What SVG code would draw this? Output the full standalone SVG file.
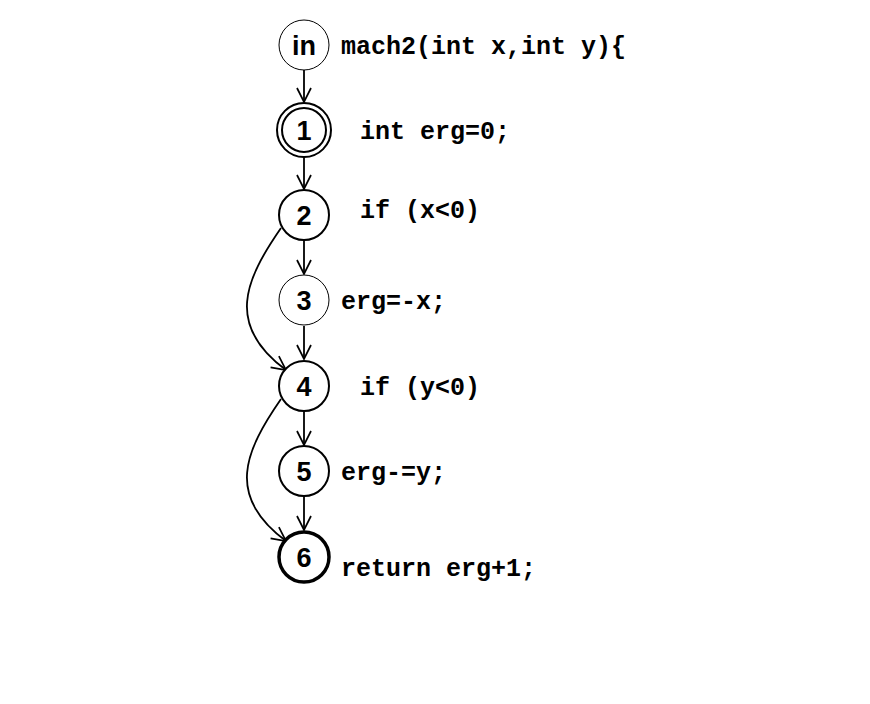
<svg xmlns="http://www.w3.org/2000/svg" width="870" height="704" viewBox="0 0 870 704">
<defs>
<style>
.n{fill:#fff;stroke:#000}
.lab{font-family:"Liberation Sans",Arial,sans-serif;font-weight:bold;font-size:27px;text-anchor:middle}
.code{font-family:"Liberation Mono","Courier New",monospace;font-weight:bold;font-size:25px}
.e{fill:none;stroke:#000;stroke-width:1.8}
</style>
<marker id="ar" viewBox="0 0 16 16" refX="15" refY="8" markerWidth="16" markerHeight="16" markerUnits="userSpaceOnUse" orient="auto">
<path d="M1,1 L15,8 L1,15" fill="none" stroke="#000" stroke-width="1.7"/>
</marker>
</defs>
<rect width="870" height="704" fill="#fff"/>
<g id="edges">
<line class="e" x1="304" y1="70" x2="304" y2="102" marker-end="url(#ar)"/>
<line class="e" x1="304" y1="157" x2="304" y2="189" marker-end="url(#ar)"/>
<line class="e" x1="304" y1="241" x2="304" y2="274" marker-end="url(#ar)"/>
<line class="e" x1="304" y1="326" x2="304" y2="359" marker-end="url(#ar)"/>
<line class="e" x1="304" y1="412" x2="304" y2="445" marker-end="url(#ar)"/>
<line class="e" x1="304" y1="497" x2="304" y2="530" marker-end="url(#ar)"/>
<path class="e" d="M281,228 C245,280 225,325 286,370" marker-end="url(#ar)"/>
<path class="e" d="M281,399 C245,451 225,496 286,541" marker-end="url(#ar)"/>
</g>
<g id="in">
<circle class="n" cx="304" cy="45" r="25" stroke-width="1"/>
<text class="lab" x="304" y="55">in</text>
<text class="code" x="341" y="54">mach2(int x,int y){</text>
</g>
<g id="n1">
<circle class="n" cx="304" cy="130" r="27" stroke-width="2"/>
<circle class="n" cx="304" cy="130" r="22" stroke-width="2"/>
<text class="lab" x="304" y="140">1</text>
<text class="code" x="360" y="139">int erg=0;</text>
</g>
<g id="n2">
<circle class="n" cx="304" cy="215" r="25" stroke-width="2"/>
<text class="lab" x="304" y="225">2</text>
<text class="code" x="360" y="218">if (x&lt;0)</text>
</g>
<g id="n3">
<circle class="n" cx="304" cy="300" r="25" stroke-width="1"/>
<text class="lab" x="304" y="310">3</text>
<text class="code" x="341" y="309">erg=-x;</text>
</g>
<g id="n4">
<circle class="n" cx="304" cy="386" r="25" stroke-width="2"/>
<text class="lab" x="304" y="396">4</text>
<text class="code" x="360" y="395">if (y&lt;0)</text>
</g>
<g id="n5">
<circle class="n" cx="304" cy="471" r="25" stroke-width="2"/>
<text class="lab" x="304" y="481">5</text>
<text class="code" x="341" y="480">erg-=y;</text>
</g>
<g id="n6">
<circle class="n" cx="304" cy="557" r="25" stroke-width="3.5"/>
<text class="lab" x="304" y="567">6</text>
<text class="code" x="341" y="576">return erg+1;</text>
</g>
</svg>
